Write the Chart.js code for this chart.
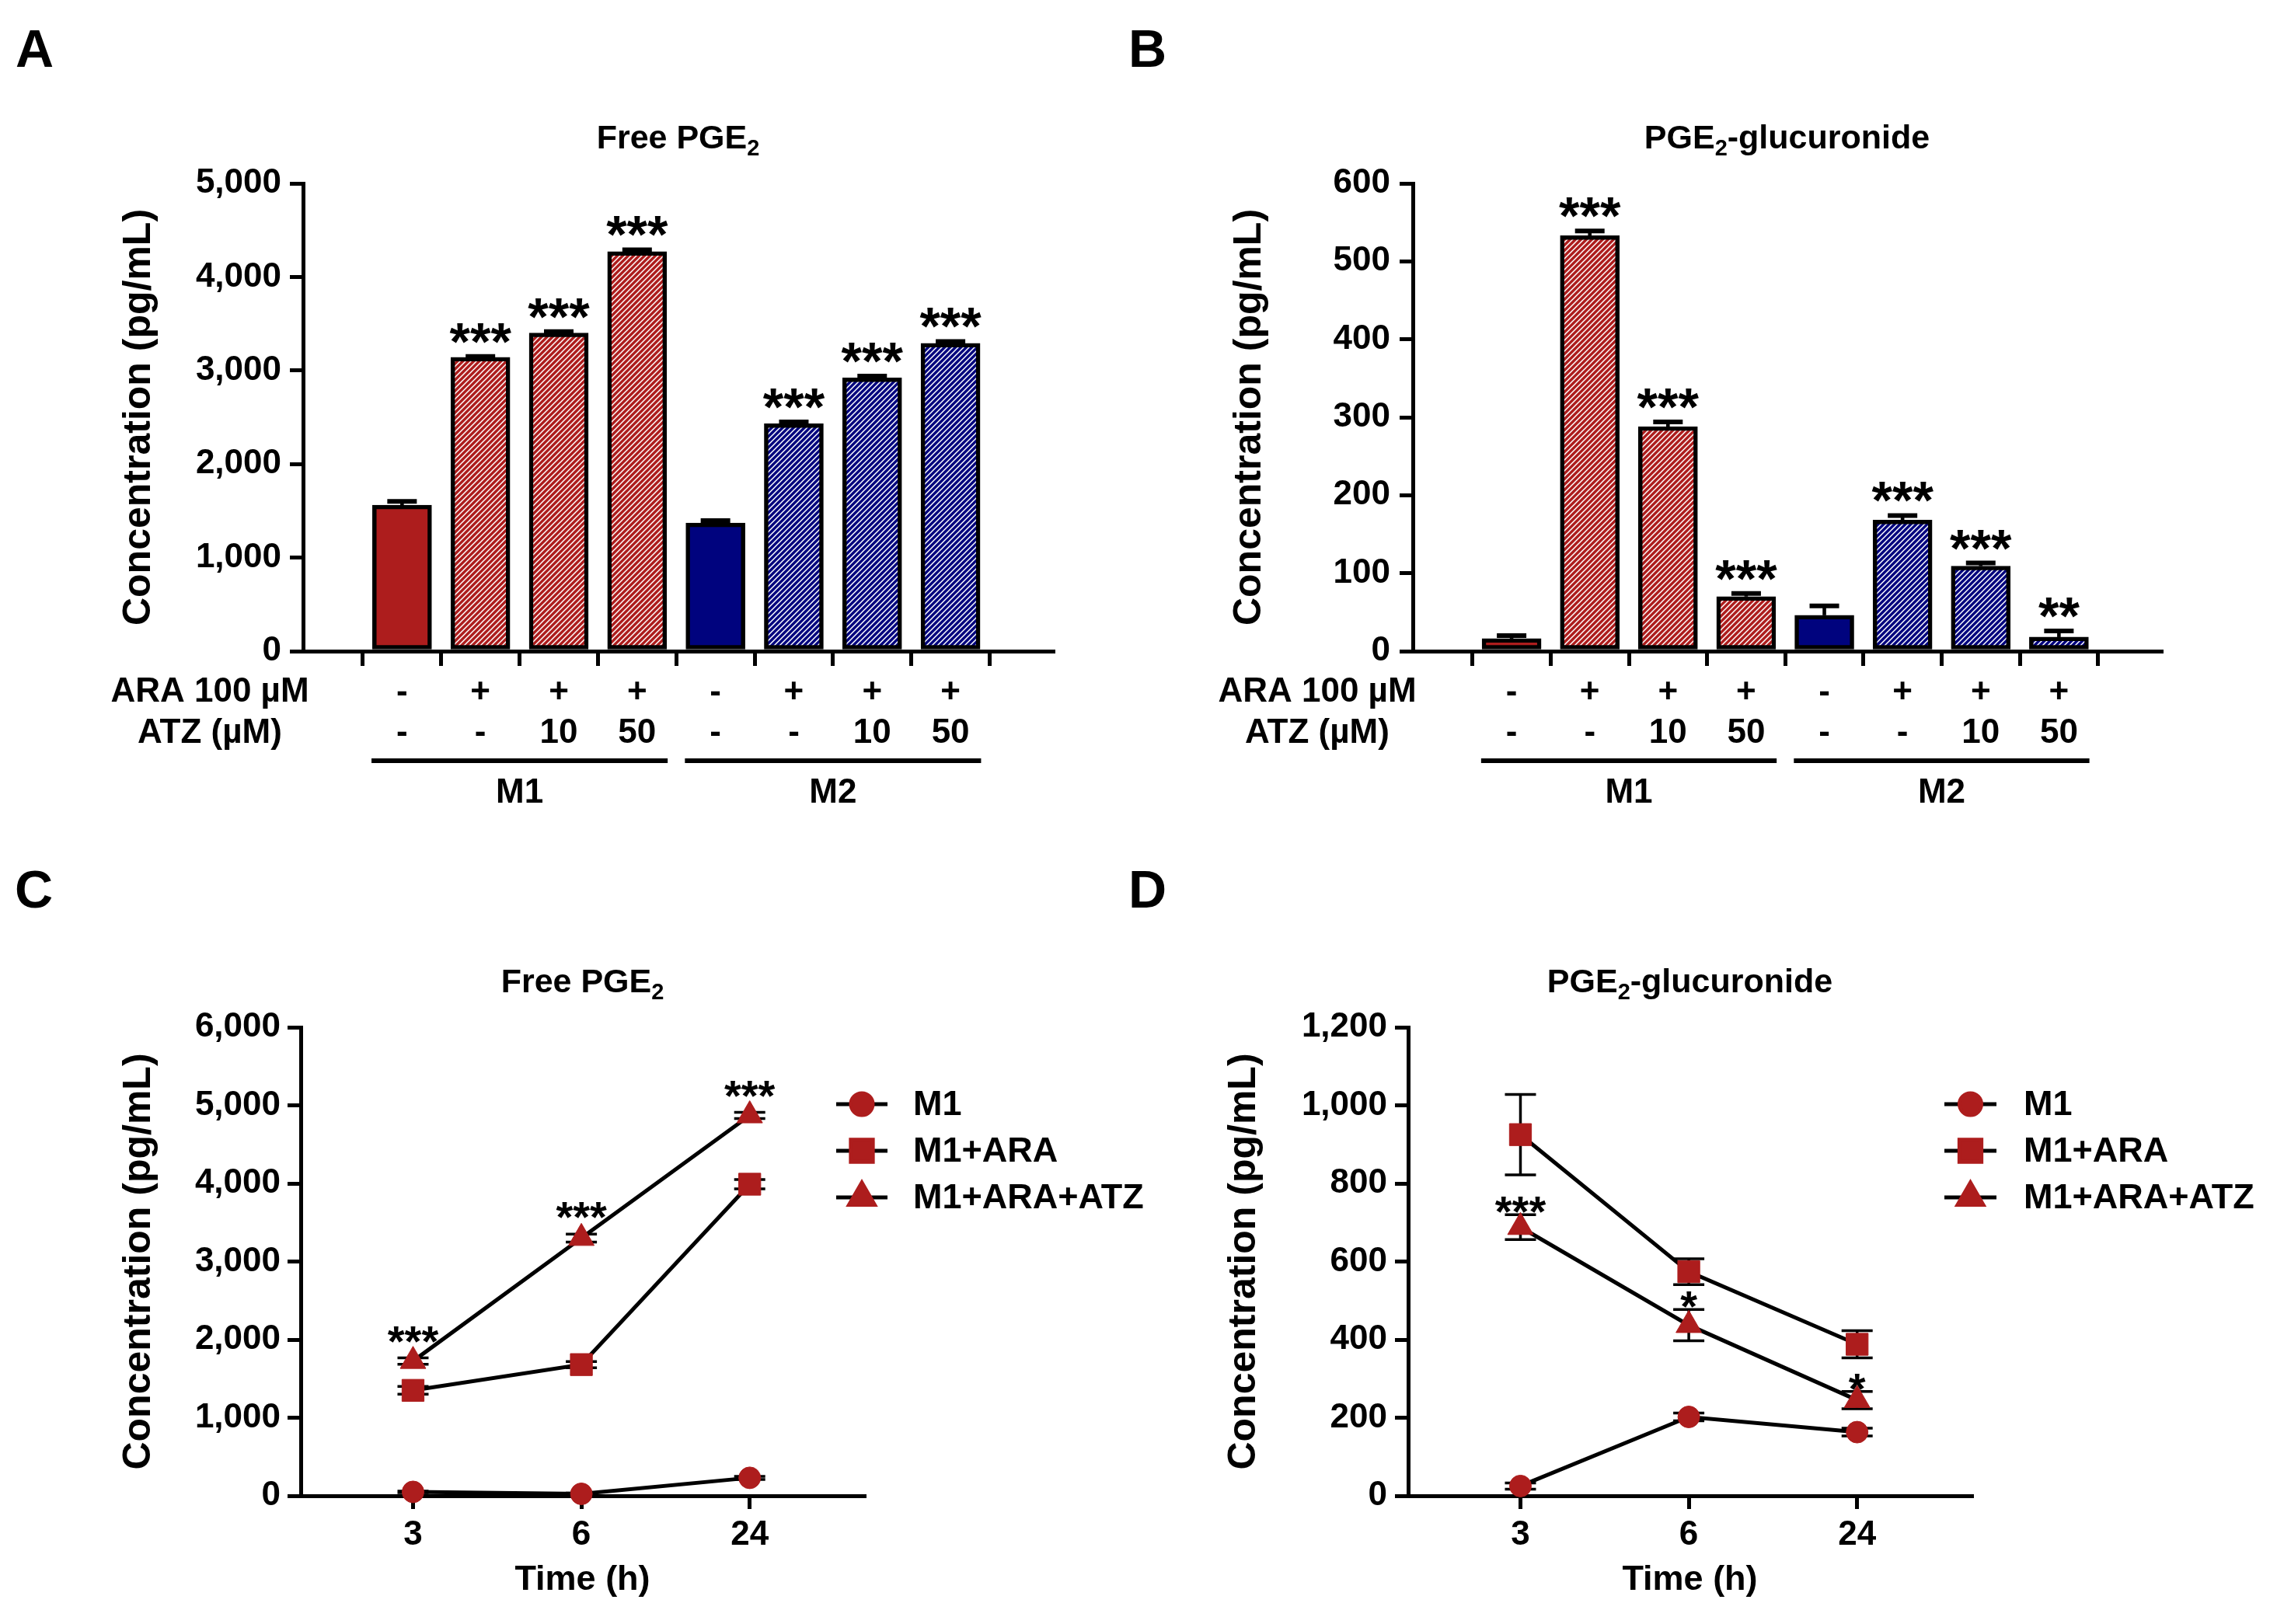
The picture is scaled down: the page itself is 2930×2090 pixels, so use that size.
<!DOCTYPE html>
<html>
<head>
<meta charset="utf-8">
<script src="https://cdn.jsdelivr.net/npm/chart.js@4.4.1/dist/chart.umd.min.js"></script>
<style>
  html, body { margin: 0; padding: 0; background: #fff; }
  #wrap { position: relative; width: 2930px; height: 2090px; }
  .panel { position: absolute; }
</style>
</head>
<body>
<div id="wrap">
  <div class="panel" style="left:0;top:0;width:1450px;height:1060px"><canvas id="chartA"></canvas></div>
  <div class="panel" style="left:1450px;top:0;width:1480px;height:1060px"><canvas id="chartB"></canvas></div>
  <div class="panel" style="left:1450px;top:1060px;width:1480px;height:1030px"><canvas id="chartD"></canvas></div>
  <div class="panel" style="left:0;top:1060px;width:1520px;height:1030px"><canvas id="chartC"></canvas></div>
</div>
<script>
// ---- data ----
const araLabels = ['-', '+', '+', '+', '-', '+', '+', '+'];
const atzLabels = ['-', '-', '10', '50', '-', '-', '10', '50'];
const groupNames = ['M1', 'M2'];

const freeBarValues = [1560, 3140, 3400, 4270, 1370, 2430, 2920, 3290];
const freeBarErrors = [40, 10, 15, 20, 25, 20, 20, 20];
const freeBarStars = ['', '***', '***', '***', '', '***', '***', '***'];
const freeBarTicks = [0, 1000, 2000, 3000, 4000, 5000];

const glucBarValues = [16, 533, 288, 70, 46, 168, 109, 18];
const glucBarErrors = [4, 6, 6, 4, 12, 6, 4, 8];
const glucBarStars = ['', '***', '***', '***', '', '***', '***', '**'];
const glucBarTicks = [0, 100, 200, 300, 400, 500, 600];

const timeLabels = ['3', '6', '24'];
const seriesNames = ['M1', 'M1+ARA', 'M1+ARA+ATZ'];

const freeM1 = [50, 25, 230];
const freeM1Err = [10, 10, 20];
const freeARA = [1350, 1680, 3990];
const freeARAErr = [50, 40, 60];
const freeATZ = [1725, 3300, 4870];
const freeATZErr = [40, 50, 40];
const freeATZStars = ['***', '***', '***'];
const freeLineTicks = [0, 1000, 2000, 3000, 4000, 5000, 6000];

const glucM1 = [25, 202, 163];
const glucM1Err = [8, 10, 10];
const glucARA = [925, 574, 388];
const glucARAErr = [103, 33, 35];
const glucATZ = [688, 437, 245];
const glucATZErr = [32, 40, 22];
const glucATZStars = ['***', '*', '*'];
const glucLineTicks = [0, 200, 400, 600, 800, 1000, 1200];

// ---- styles ----
const RED = '#ad1d1d';
const NAVY = '#00037e';
const FONT = "'Liberation Sans', Arial, Helvetica, sans-serif";

function hatch(color) {
  const s = 7;
  const tile = document.createElement('canvas');
  tile.width = s; tile.height = s;
  const g = tile.getContext('2d');
  g.fillStyle = color;
  g.fillRect(0, 0, s, s);
  g.strokeStyle = '#fff';
  g.lineWidth = 1.5;
  g.beginPath();
  g.moveTo(-2, s + 2); g.lineTo(s + 2, -2);
  g.moveTo(-2, 2); g.lineTo(2, -2);
  g.moveTo(s - 2, s + 2); g.lineTo(s + 2, s - 2);
  g.stroke();
  return g.createPattern(tile, 'repeat');
}

const barFills = araLabels.map((a, i) => {
  const base = i < 4 ? RED : NAVY;
  return a === '+' ? hatch(base) : base;
});

// ---- plugins ----
function drawErrors(chart, o) {
  const ctx = chart.ctx, y = chart.scales.y;
  ctx.save();
  ctx.strokeStyle = '#000';
  chart.data.datasets.forEach((ds, di) => {
    if (!ds.errors) return;
    chart.getDatasetMeta(di).data.forEach((el, i) => {
      const v = ds.data[i].y, e = ds.errors[i];
      const top = y.getPixelForValue(v + e);
      const bot = o.upOnly ? el.y : y.getPixelForValue(v - e);
      ctx.lineWidth = o.width;
      ctx.beginPath();
      ctx.moveTo(el.x, top); ctx.lineTo(el.x, bot);
      ctx.stroke();
      ctx.lineWidth = o.capWidth;
      ctx.beginPath();
      ctx.moveTo(el.x - o.cap / 2, top); ctx.lineTo(el.x + o.cap / 2, top);
      if (!o.upOnly) { ctx.moveTo(el.x - o.cap / 2, bot); ctx.lineTo(el.x + o.cap / 2, bot); }
      ctx.stroke();
    });
  });
  ctx.restore();
}

function drawStars(chart, o) {
  const ctx = chart.ctx, y = chart.scales.y;
  ctx.save();
  ctx.fillStyle = '#000';
  ctx.font = `bold ${o.starSize}px ${FONT}`;
  ctx.textAlign = 'center';
  ctx.textBaseline = 'alphabetic';
  chart.data.datasets.forEach((ds, di) => {
    if (!ds.stars) return;
    chart.getDatasetMeta(di).data.forEach((el, i) => {
      const s = ds.stars[i];
      if (!s) return;
      const top = y.getPixelForValue(ds.data[i].y + ds.errors[i]);
      const m = ctx.measureText(s);
      ctx.fillText(s, el.x, top - o.gap - m.actualBoundingBoxDescent);
    });
  });
  ctx.restore();
}

const errorBars = {
  id: 'errorBars',
  beforeDatasetsDraw(chart, args, o) { if (o.behind) drawErrors(chart, o); },
  afterDatasetsDraw(chart, args, o) {
    if (!o.behind) drawErrors(chart, o);
    drawStars(chart, o);
  }
};

function drawRuns(ctx, runs, cx, base, size) {
  const sub = Math.round(size * 0.68);
  const fontOf = s => `bold ${s ? sub : size}px ${FONT}`;
  let total = 0;
  runs.forEach(([t, s]) => { ctx.font = fontOf(s); total += ctx.measureText(t).width; });
  let x = cx - total / 2;
  ctx.textAlign = 'left';
  ctx.textBaseline = 'alphabetic';
  runs.forEach(([t, s]) => {
    ctx.font = fontOf(s);
    ctx.fillText(t, x, s ? base + size * 0.21 : base);
    x += ctx.measureText(t).width;
  });
}

const decor = {
  id: 'decor',
  afterDraw(chart, args, o) {
    const ctx = chart.ctx, area = chart.chartArea, xs = chart.scales.x;
    ctx.save();
    ctx.fillStyle = '#000';
    ctx.strokeStyle = '#000';
    ctx.font = `bold 68px ${FONT}`;
    ctx.textAlign = 'left';
    ctx.textBaseline = 'alphabetic';
    ctx.fillText(o.letter, o.letterX, o.letterY);
    drawRuns(ctx, o.title, (area.left + area.right) / 2, o.titleY, 43);

    if (o.rows) {
      ctx.font = `bold 44px ${FONT}`;
      ctx.textAlign = 'center';
      ctx.textBaseline = 'middle';
      o.rows.text.forEach((t, i) => ctx.fillText(t, o.rows.x, o.rows.y[i]));
    }
    if (o.groups) {
      groupNames.forEach((name, gi) => {
        const a = xs.getPixelForValue(gi * 4 - 0.39);
        const b = xs.getPixelForValue(gi * 4 + 3 + 0.39);
        ctx.lineWidth = 6;
        ctx.beginPath();
        ctx.moveTo(a, o.groups.lineY); ctx.lineTo(b, o.groups.lineY);
        ctx.stroke();
        ctx.font = `bold 44px ${FONT}`;
        ctx.textAlign = 'center';
        ctx.textBaseline = 'middle';
        ctx.fillText(name, (a + b) / 2, o.groups.labelY);
      });
    }
    if (o.legend) {
      const L = o.legend;
      chart.data.datasets.forEach((ds, i) => {
        const y = L.y[i];
        ctx.lineWidth = 5;
        ctx.strokeStyle = '#000';
        ctx.beginPath();
        ctx.moveTo(L.x1, y); ctx.lineTo(L.x2, y);
        ctx.stroke();
        ctx.fillStyle = ds.pointBackgroundColor;
        ctx.strokeStyle = ds.pointBorderColor;
        Chart.helpers.drawPoint(ctx, {pointStyle: ds.pointStyle, radius: ds.pointRadius, borderWidth: 1, rotation: 0}, (L.x1 + L.x2) / 2, y);
        ctx.fillStyle = '#000';
        ctx.font = `bold 45px ${FONT}`;
        ctx.textAlign = 'left';
        ctx.textBaseline = 'middle';
        ctx.fillText(ds.label, L.tx, y + 2);
      });
    }
    ctx.restore();
  }
};

Chart.register(errorBars, decor);

const tickFont = {family: FONT, size: 44, weight: 'bold', lineHeight: 1.2};

function yScale(ticks, width, titlePad, tickPad) {
  return {
    min: 0, max: ticks[ticks.length - 1],
    afterBuildTicks: ax => { ax.ticks = ticks.map(v => ({value: v})); },
    afterFit: ax => { ax.width = width; },
    grid: {drawOnChartArea: false, drawTicks: true, tickLength: 17, color: '#000', lineWidth: 5},
    border: {display: true, color: '#000', width: 5},
    ticks: {color: '#000', font: tickFont, padding: tickPad, callback: v => v.toLocaleString('en-US')},
    title: {display: true, text: 'Concentration (pg/mL)', color: '#000',
      font: {family: FONT, size: 50, weight: 'bold', lineHeight: 1.2}, padding: {top: titlePad, bottom: 0}}
  };
}

function barChart(id, cfg) {
  return new Chart(document.getElementById(id), {
    type: 'bar',
    data: {
      datasets: [{
        data: cfg.values.map((v, i) => ({x: i, y: v})),
        errors: cfg.errors,
        stars: cfg.stars,
        backgroundColor: barFills,
        borderColor: '#000',
        borderWidth: 5.5,
        borderSkipped: false,
        barThickness: 76
      }]
    },
    options: {
      responsive: true, maintainAspectRatio: false, animation: false,
      layout: {padding: {left: 0, top: 236, right: cfg.padRight, bottom: 0}},
      plugins: {
        legend: {display: false}, tooltip: {enabled: false},
        errorBars: {upOnly: true, behind: false, width: 4.6, capWidth: 6, cap: 38, starSize: 68, gap: 17},
        decor: {letter: cfg.letter, letterX: cfg.letterX, letterY: 86, title: cfg.title, titleY: 191,
          rows: {text: ['ARA 100 µM', 'ATZ (µM)'], x: cfg.rowX, y: [891, 944]},
          groups: {lineY: 979, labelY: 1021}}
      },
      scales: {
        x: {
          type: 'linear', min: -0.665, max: 7.71,
          afterBuildTicks: ax => { ax.ticks = araLabels.map((_, i) => ({value: i})); },
          afterFit: ax => { ax.height = 222; },
          grid: {drawOnChartArea: false, drawTicks: true, tickLength: 19, color: '#000', lineWidth: 5},
          border: {display: true, color: '#000', width: 5},
          ticks: {color: '#000', font: tickFont, padding: 8, maxRotation: 0, autoSkip: false,
            callback: v => [araLabels[v], atzLabels[v]]}
        },
        y: yScale(cfg.ticks, cfg.axisWidth, cfg.titlePad, cfg.tickPad)
      }
    }
  });
}

function lineChart(id, cfg) {
  const styles = [['circle', 14], ['rect', 20], ['triangle', 19]];
  return new Chart(document.getElementById(id), {
    type: 'line',
    data: {
      datasets: cfg.series.map((s, k) => ({
        label: seriesNames[k],
        data: s.values.map((v, i) => ({x: i, y: v})),
        errors: s.errors,
        stars: s.stars,
        borderColor: '#000',
        borderWidth: 5,
        tension: 0,
        pointStyle: styles[k][0],
        pointRadius: styles[k][1],
        pointBackgroundColor: RED,
        pointBorderColor: RED,
        pointBorderWidth: 1,
        clip: false
      }))
    },
    options: {
      responsive: true, maintainAspectRatio: false, animation: false,
      layout: {padding: {left: 0, top: 262, right: cfg.padRight, bottom: 0}},
      plugins: {
        legend: {display: false}, tooltip: {enabled: false},
        errorBars: {upOnly: false, behind: true, width: 3.5, capWidth: 3.5, cap: 40, starSize: 56, gap: cfg.starGap},
        decor: {letter: cfg.letter, letterX: cfg.letterX, letterY: 108, title: cfg.title, titleY: 217,
          legend: cfg.legend}
      },
      scales: {
        x: {
          type: 'linear', min: -0.667, max: 2.68,
          afterBuildTicks: ax => { ax.ticks = timeLabels.map((_, i) => ({value: i})); },
          afterFit: ax => { ax.height = 165; },
          grid: {drawOnChartArea: false, drawTicks: true, tickLength: 17, color: '#000', lineWidth: 5},
          border: {display: true, color: '#000', width: 5},
          ticks: {color: '#000', font: tickFont, padding: 7, maxRotation: 0, autoSkip: false,
            callback: v => timeLabels[v]},
          title: {display: true, text: 'Time (h)', color: '#000',
            font: {family: FONT, size: 45, weight: 'bold', lineHeight: 1.2}, padding: {top: 0, bottom: 29}}
        },
        y: yScale(cfg.ticks, cfg.axisWidth, cfg.titlePad, cfg.tickPad)
      }
    }
  });
}

barChart('chartA', {
  values: freeBarValues, errors: freeBarErrors, stars: freeBarStars, ticks: freeBarTicks,
  padRight: 95, axisWidth: 390, titlePad: 149, tickPad: 11, rowX: 270,
  letter: 'A', letterX: 20, title: [['Free PGE', false], ['2', true]]
});

barChart('chartB', {
  values: glucBarValues, errors: glucBarErrors, stars: glucBarStars, ticks: glucBarTicks,
  padRight: 149, axisWidth: 368, titlePad: 128, tickPad: 12, rowX: 245,
  letter: 'B', letterX: 2, title: [['PGE', false], ['2', true], ['-glucuronide', false]]
});

lineChart('chartD', {
  series: [
    {values: glucM1, errors: glucM1Err},
    {values: glucARA, errors: glucARAErr},
    {values: glucATZ, errors: glucATZErr, stars: glucATZStars}
  ],
  ticks: glucLineTicks, padRight: 393, axisWidth: 362, titlePad: 121, tickPad: 10, starGap: 2,
  letter: 'D', letterX: 2, title: [['PGE', false], ['2', true], ['-glucuronide', false]],
  legend: {x1: 1052, x2: 1119, tx: 1154, y: [361, 421, 481]}
});

lineChart('chartC', {
  series: [
    {values: freeM1, errors: freeM1Err},
    {values: freeARA, errors: freeARAErr},
    {values: freeATZ, errors: freeATZErr, stars: freeATZStars}
  ],
  ticks: freeLineTicks, padRight: 408, axisWidth: 387, titlePad: 149, tickPad: 9, starGap: 20,
  letter: 'C', letterX: 19, title: [['Free PGE', false], ['2', true]],
  legend: {x1: 1076, x2: 1142, tx: 1175, y: [361, 421, 481]}
});
</script>
</body>
</html>
